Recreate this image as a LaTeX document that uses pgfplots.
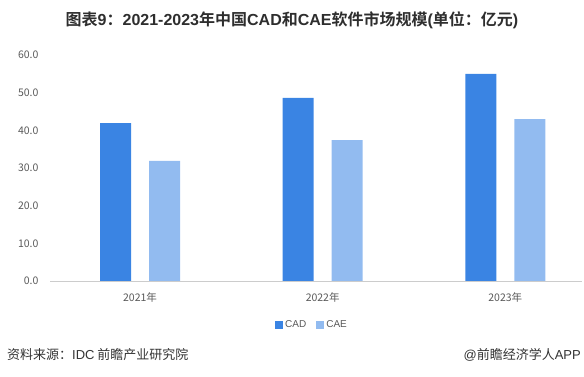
\documentclass[border=0pt]{standalone}
\usepackage{pgfplots}
\pgfplotsset{compat=1.18}
\usepackage{fontspec}
\setmainfont{Noto Sans CJK SC}[BoldFont={Noto Sans CJK SC Bold}]
\newfontfamily\lat{Liberation Sans}
\definecolor{cad}{HTML}{3A84E3}
\definecolor{cae}{HTML}{92BBF0}
\definecolor{ticktext}{HTML}{595959}
\begin{document}
\begin{tikzpicture}
\useasboundingbox (0,0) rectangle (584pt,377pt);
\begin{axis}[
  at={(50pt,96pt)}, anchor=south west,
  scale only axis, width=532pt, height=226pt,
  xmin=-0.493, xmax=2.42, ymin=0, ymax=60,
  ybar=18pt, bar width=31pt,
  xtick={0,1,2}, xticklabels={2021年,2022年,2023年},
  ytick={0,10,...,60},
  /pgf/number format/assume math mode=true,
  yticklabel={\pgfmathprintnumber[fixed,fixed zerofill,precision=1]{\tick}},
  axis x line*=bottom, axis y line*=left,
  y axis line style={draw=none},
  x axis line style={draw=black!20, line width=0.8pt},
  major tick length=0pt,
  tick label style={font=\fontsize{10.5}{12}\selectfont, text=ticktext},
  yticklabel style={xshift=-8pt},
  xticklabel style={yshift=-8pt},
  legend style={at={(0.4925,-0.195)}, anchor=center, legend columns=2, draw=none, fill=none,
    font=\fontsize{10}{12}\selectfont, text=ticktext,
    /tikz/every even column/.append style={column sep=8pt}},
  clip=false,
]
\addplot[fill=cad, draw=none, legend image code/.code={\fill[cad] (0pt,-4pt) rectangle (8pt,4pt);}] coordinates {(0,41.9) (1,48.6) (2,55.0)};
\addplot[fill=cae, draw=none, legend image code/.code={\fill[cae] (0pt,-4pt) rectangle (8pt,4pt);}] coordinates {(0,31.9) (1,37.4) (2,43.0)};
\legend{{\lat CAD},{\lat CAE}}
\end{axis}
\node[font=\bfseries\fontsize{16}{18}\selectfont, text=black!82] at (292pt,357pt) {图表{\lat 9}：{\lat 2021-2023}年中国{\lat CAD}和{\lat CAE}软件市场规模{\lat (}单位：亿元{\lat )}};
\node[font=\fontsize{13}{15}\selectfont, text=black!80, anchor=west, inner sep=0pt] at (7pt,22pt) {资料来源：{\lat IDC} 前瞻产业研究院};
\node[font=\fontsize{13}{15}\selectfont, text=black!80, anchor=east, inner sep=0pt] at (581pt,22pt) {{\lat @}前瞻经济学人{\lat APP}};
\end{tikzpicture}
\end{document}
